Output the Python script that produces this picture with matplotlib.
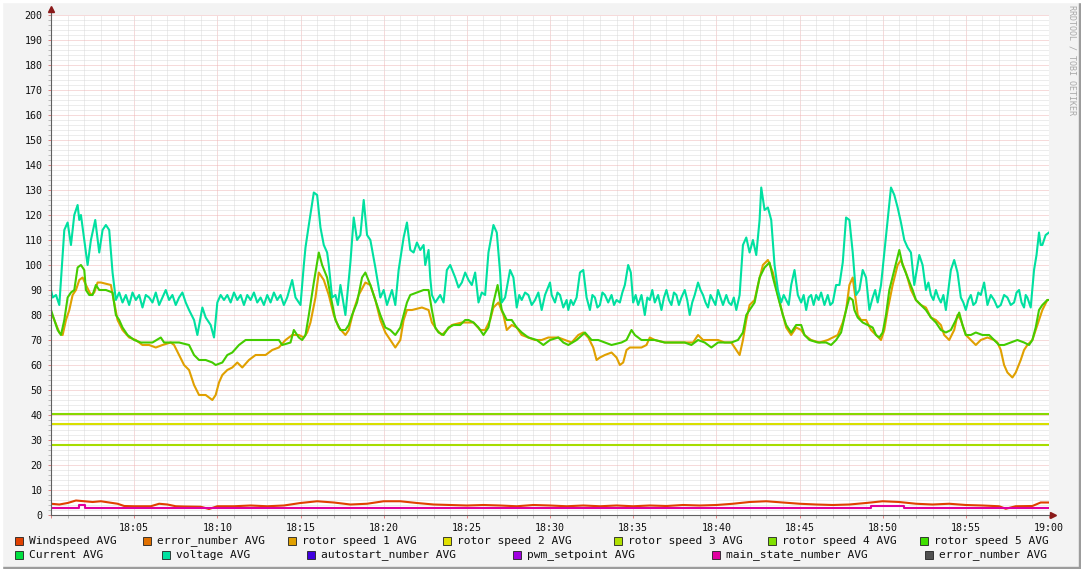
import matplotlib
matplotlib.use("Agg")
import matplotlib.pyplot as plt
from matplotlib.patches import Rectangle

W, H = 1081, 569

# minutes after 18:00
volt_t = [0, 0.1, 0.3, 0.5, 0.6, 0.8, 1.0, 1.2, 1.4, 1.6, 1.7, 1.8, 2.0, 2.2, 2.4, 2.66, 2.9, 3.1, 3.3, 3.5, 3.7, 3.9,
          4.1, 4.3, 4.5, 4.7, 4.9, 5.1, 5.3, 5.5, 5.7, 5.9, 6.1, 6.3, 6.5, 6.7, 6.9, 7.1, 7.3, 7.5, 7.7, 7.9, 8.1,
          8.3, 8.6, 8.8, 9.1, 9.3, 9.6, 9.8, 10.0,
          10.2, 10.4, 10.6, 10.8, 11.0, 11.2, 11.4, 11.6, 11.8, 12.0, 12.2, 12.4, 12.6, 12.8, 13.0, 13.2, 13.4, 13.6,
          13.8, 14.0, 14.2, 14.5, 14.7, 15.0, 15.2, 15.3, 15.5, 15.8, 16.0, 16.2, 16.4, 16.6, 16.7, 16.9, 17.1,
          17.25, 17.4, 17.55, 17.7, 18.0, 18.2, 18.4, 18.6, 18.8, 19.0, 19.2, 19.5, 19.8, 20.0, 20.2, 20.5, 20.7,
          20.9, 21.2, 21.4, 21.6, 21.8, 22.0, 22.2, 22.4, 22.5, 22.7, 22.8, 22.9, 23.1, 23.4, 23.6, 23.8, 24.0,
          24.3, 24.5, 24.7, 24.9, 25.1, 25.3, 25.5, 25.7, 25.9, 26.1, 26.3, 26.6, 26.8, 27.0, 27.1, 27.3, 27.6,
          27.8, 28.0, 28.15, 28.3, 28.5, 28.7, 28.9, 29.1, 29.3, 29.5, 29.7, 30.0, 30.1, 30.3, 30.45, 30.6, 30.8,
          31.0, 31.1, 31.25, 31.4, 31.6, 31.8, 32.0, 32.2, 32.4, 32.55, 32.7, 32.85, 33.0, 33.15, 33.3, 33.5,
          33.7, 33.85, 34.0, 34.2, 34.35, 34.5, 34.7, 34.86, 35.0, 35.15, 35.3, 35.5, 35.7, 35.85, 36.0, 36.15,
          36.3, 36.5, 36.7, 36.85, 37.0, 37.15, 37.3, 37.45, 37.6, 37.75, 37.9, 38.1, 38.25, 38.4, 38.55, 38.7,
          38.9, 39.05, 39.2, 39.35, 39.5, 39.65, 39.8, 39.95, 40.1, 40.25, 40.4, 40.6, 40.75, 40.9, 41.05, 41.2,
          41.4, 41.6, 41.8, 42.0, 42.2, 42.4, 42.6, 42.7, 42.9, 43.1, 43.3, 43.5, 43.7, 43.9, 44.05, 44.2, 44.35,
          44.5, 44.7, 44.9, 45.1, 45.25, 45.4, 45.55, 45.7, 45.85, 46.0, 46.15, 46.3, 46.5, 46.7, 46.85, 47.0,
          47.2, 47.4, 47.6, 47.8, 48.0, 48.2, 48.4, 48.6, 48.8, 49.0, 49.2, 49.4, 49.55, 49.7, 49.9, 50.1, 50.3,
          50.5, 50.7, 50.9, 51.1, 51.3, 51.5, 51.7, 51.9, 52.2, 52.4, 52.6, 52.75, 52.9, 53.05, 53.2, 53.35, 53.5,
          53.65, 53.8, 54.1, 54.3, 54.5, 54.7, 54.85, 55.0, 55.15, 55.3, 55.45, 55.6, 55.75, 55.9, 56.1, 56.3,
          56.5, 56.7, 56.9, 57.1, 57.3, 57.5, 57.7, 57.9, 58.05, 58.2, 58.35, 58.5, 58.6, 58.7, 58.9, 59.1,
          59.25, 59.4, 59.5, 59.6, 59.8, 60.0]
volt_v = [90, 87, 88, 84, 94, 114, 117, 108, 120, 124, 118, 120, 110, 100, 110, 118, 105, 114, 116, 114, 97, 86,
          89, 85, 88, 84, 89, 86, 88, 83, 88, 87, 85, 89, 84, 87, 90, 86, 88, 84, 87, 89, 85,
          82, 78, 72, 83, 79, 76, 71, 85,
          88, 86, 88, 85, 89, 86, 88, 84, 88, 86, 89, 85, 87, 84, 88, 85, 89, 86,
          88, 84, 87, 94, 87, 84, 100, 107, 116, 129, 128, 115, 108, 105, 100, 87, 88,
          84, 92, 86, 80, 101, 119, 110, 112, 126, 112, 110, 99, 87, 90, 84, 90, 84,
          98, 111, 117, 106, 105, 109, 106, 108, 100, 106, 95, 88, 85, 88, 85, 98, 100,
          95, 91, 93, 97, 94, 92, 97, 85, 89, 88, 105, 116, 113, 97, 85, 87, 98,
          95, 83, 88, 86, 89, 88, 84, 86, 89, 82, 88, 93, 88, 85, 89, 88, 83,
          86, 82, 86, 84, 87, 97, 98, 87, 82, 88, 87, 83, 84, 89, 88, 85,
          88, 84, 86, 85, 89, 92, 100, 97, 85, 88, 84, 88, 80, 87, 86, 90,
          85, 88, 82, 87, 90, 86, 84, 89, 88, 84, 87, 90, 86, 80, 85, 88,
          93, 90, 88, 85, 83, 88, 86, 84, 90, 87, 84, 88, 85, 84, 87, 82,
          88, 108, 111, 105, 110, 104, 118, 131, 122, 123, 118, 100, 90, 85, 88, 86, 84,
          92, 98, 88, 85, 88, 82, 87, 88, 84, 88, 86, 89, 84, 88, 84, 85,
          92, 92, 101, 119, 118, 105, 88, 90, 98, 95, 82, 87, 90, 85, 92, 105, 118,
          131, 128, 123, 117, 110, 107, 105, 92, 104, 100, 90, 93, 88, 86, 90, 87, 85,
          88, 82, 98, 102, 97, 87, 85, 82, 86, 88, 84, 85, 89, 88, 93, 84,
          88, 86, 83, 84, 88, 87, 84, 85, 89, 90, 85, 83, 88, 87, 83, 98,
          104, 113, 108, 108, 112, 113]

rs5_t = [0, 0.2, 0.4, 0.6, 0.8, 1.0, 1.2, 1.4, 1.6, 1.8, 2.0, 2.1, 2.3, 2.5, 2.7, 2.9, 3.3, 3.7, 3.9, 4.1, 4.3,
         4.6, 5.0, 5.4, 6.1, 6.6, 6.8, 7.7, 8.3, 8.6, 8.9, 9.3, 9.7, 9.9, 10.3, 10.6, 10.9, 11.3, 11.7, 12.7,
         13.7, 13.9, 14.4, 14.6, 14.9, 15.1, 15.3, 15.5, 15.8, 16.1, 16.3, 16.6, 16.8, 17.1, 17.4, 17.7, 17.9,
         18.1, 18.4, 18.7, 18.9, 19.2, 19.5, 19.8, 20.1, 20.4, 20.7, 21.0, 21.2, 21.4, 21.6, 22.0, 22.4, 22.7,
         22.9, 23.1, 23.3, 23.6, 23.9, 24.2, 24.6, 24.9, 25.1, 25.4, 25.7, 26.0, 26.3, 26.6, 26.85, 27.1, 27.4,
         27.7, 28.0, 28.3, 28.7, 29.2, 29.6, 30.0, 30.5, 30.8, 31.1, 31.6, 32.1, 32.5, 32.9, 33.3, 33.7, 34.3,
         34.6, 34.9, 35.1, 35.5, 35.9, 36.3, 36.9, 37.5, 38.1, 38.5, 38.9, 39.3, 39.7, 40.1, 40.5, 40.9, 41.3,
         41.6, 41.8, 42.0, 42.3, 42.6, 42.9, 43.2, 43.4, 43.6, 43.8, 44.0, 44.2, 44.5, 44.8, 45.1, 45.3, 45.6,
         46.1, 46.6, 46.9, 47.2, 47.5, 47.8, 48.0, 48.2, 48.3, 48.5, 48.8, 49.1, 49.4, 49.6, 49.8, 50.0, 50.2,
         50.4, 50.7, 51.0, 51.2, 51.5, 51.8, 52.0, 52.3, 52.6, 52.9, 53.2, 53.5, 53.8, 54.1, 54.4, 54.6, 54.8,
         55.0, 55.3, 55.6, 56.0, 56.4, 56.7, 57.0, 57.3, 57.7, 58.1, 58.5, 58.8, 59.0, 59.2, 59.4, 59.6, 59.9,
         60.0]
rs5_v = [82, 78, 74, 72, 78, 87, 89, 90, 99, 100, 98, 90, 88, 88, 92, 90, 90, 89, 80, 78, 75,
         72, 70, 69, 69, 71, 69, 69, 68, 64, 62, 62, 61, 60, 61, 64, 65, 68, 70, 70,
         70, 68, 69, 74, 71, 70, 72, 80, 93, 105, 100, 95, 88, 78, 74, 74, 76,
         80, 85, 95, 97, 92, 86, 80, 75, 74, 72, 75, 80, 85, 88, 89, 90, 90,
         82, 75, 73, 72, 75, 76, 76, 78, 78, 77, 75, 72, 75, 85, 92, 82, 78,
         78, 75, 73, 71, 70, 68, 70, 71, 69, 68, 70, 73, 70, 70, 69, 68, 69,
         70, 74, 72, 70, 70, 70, 69, 69, 69, 68, 70, 69, 67, 69, 69, 69, 70,
         73, 80, 82, 85, 95, 99, 101, 95, 90, 85, 80, 76, 73, 76, 76, 72, 70,
         69, 69, 68, 70, 73, 82, 87, 86, 82, 79, 77, 76, 75, 72, 71, 73, 80,
         90, 98, 106, 100, 95, 90, 86, 84, 82, 79, 77, 74, 73, 74, 78, 81, 76,
         72, 72, 73, 72, 72, 70, 68, 68, 69, 70, 69, 68, 70, 75, 82, 84, 86,
         86]

rs1_t = [0, 0.2, 0.5, 0.7, 0.9, 1.1, 1.3, 1.5, 1.7, 1.9, 2.1, 2.4, 2.6, 2.8, 3.0, 3.6, 3.8, 4.0, 4.3, 4.7, 5.1,
         5.5, 5.9, 6.3, 6.7, 7.2, 7.4, 7.7, 8.0, 8.3, 8.6, 8.9, 9.3, 9.7, 9.9, 10.1, 10.3, 10.6, 10.9, 11.2,
         11.5, 11.9, 12.3, 12.9, 13.3, 13.7, 14.1, 14.5, 14.9, 15.2, 15.4, 15.6, 15.9, 16.1, 16.4, 16.7, 17.0,
         17.3, 17.7, 17.9, 18.2, 18.5, 18.9, 19.2, 19.5, 19.8, 20.1, 20.4, 20.7, 21.0, 21.2, 21.4, 21.7, 22.3,
         22.7, 22.9, 23.2, 23.5, 23.8, 24.1, 24.7, 25.1, 25.4, 25.8, 26.1, 26.4, 26.6, 26.9, 27.2, 27.4, 27.7,
         28.0, 28.3, 28.7, 29.1, 29.5, 29.9, 30.5, 30.9, 31.3, 31.7, 32.0, 32.3, 32.6, 32.8, 33.0, 33.3, 33.7,
         34.0, 34.2, 34.4, 34.6, 34.8, 35.5, 35.8, 36.0, 36.3, 36.9, 37.5, 38.1, 38.6, 38.9, 39.2, 39.7, 40.1,
         40.5, 40.9, 41.2, 41.4, 41.6, 41.8, 42.0, 42.3, 42.5, 42.8, 43.1, 43.4, 43.7, 44.0, 44.2, 44.5, 44.8,
         45.1, 45.3, 45.7, 46.2, 46.7, 47.0, 47.3, 47.6, 47.8, 48.0, 48.2, 48.3, 48.5, 48.7, 49.0, 49.3, 49.6,
         49.9, 50.1, 50.3, 50.6, 50.9, 51.1, 51.4, 51.7, 52.0, 52.3, 52.6, 52.9, 53.2, 53.5, 53.7, 54.0, 54.3,
         54.5, 54.7, 55.0, 55.3, 55.6, 55.9, 56.3, 56.7, 56.9, 57.1, 57.3, 57.5, 57.8, 58.0, 58.3, 58.5, 58.7,
         59.0, 59.3, 59.6, 59.9, 60.0]
rs1_v = [81, 78, 73, 72, 78, 82, 88, 90, 94, 95, 92, 88, 89, 93, 93, 92, 85, 78, 74, 71, 70,
         68, 68, 67, 68, 69, 68, 64, 60, 58, 52, 48, 48, 46, 48, 53, 56, 58, 59, 61,
         59, 62, 64, 64, 66, 67, 70, 72, 72, 71, 73, 77, 87, 97, 94, 88, 80,
         75, 72, 74, 82, 88, 93, 92, 86, 78, 73, 70, 67, 70, 78, 82, 82, 83,
         82, 77, 74, 72, 74, 76, 77, 77, 77, 74, 74, 78, 83, 85, 80, 74, 76,
         75, 72, 71, 70, 70, 71, 71, 70, 69, 72, 73, 71, 67, 62, 63, 64, 65,
         63, 60, 61, 66, 67, 67, 68, 71, 70, 69, 69, 69, 69, 72, 70, 70, 70,
         69, 69, 66, 64, 70, 78, 84, 86, 92, 100, 102, 97, 88, 80, 75, 72, 75,
         74, 72, 70, 69, 70, 71, 72, 77, 82, 92, 95, 90, 80, 78, 78, 74, 72,
         70, 74, 82, 92, 100, 102, 97, 90, 86, 84, 83, 79, 78, 76, 72, 70, 74,
         80, 78, 72, 70, 68, 70, 71, 70, 69, 66, 60, 57, 55, 57, 62, 66, 68,
         70, 76, 82, 86, 86]

wind_t = [0, 0.5, 1, 1.5, 2, 2.5, 3, 3.5, 4, 4.4, 5, 6, 6.5, 7, 7.5, 8, 9, 9.5, 10, 11, 12, 13, 14, 15, 16,
          17, 18, 19, 20, 21, 22, 23, 24, 25, 26, 27, 28, 29, 30, 31, 32, 33, 34, 35, 36, 37, 38, 39, 40,
          41, 42, 43, 44, 45, 46, 47, 48, 49, 50, 51, 52, 53, 54, 55, 56, 57, 57.4, 58, 59, 59.5, 60]
wind_v = [4.5, 4.2, 4.8, 5.8, 5.5, 5.2, 5.5, 5.0, 4.5, 3.6, 3.5, 3.5, 4.5, 4.2, 3.5, 3.4, 3.3, 2.4, 3.5, 3.5,
          3.8, 3.5, 3.8, 4.8, 5.5, 5.0, 4.2, 4.5, 5.5, 5.5, 4.8, 4.2, 4.0, 3.8, 4.0, 3.8, 3.5, 4.0, 3.8,
          3.5, 3.8, 3.5, 3.8, 3.5, 3.8, 3.6, 4.0, 3.8, 4.0, 4.5, 5.2, 5.5, 5.0, 4.5, 4.2, 4.0, 4.2, 4.8,
          5.5, 5.2, 4.5, 4.2, 4.5, 4.0, 3.8, 3.5, 2.5, 3.5, 3.6, 5.0, 5.0]

state_t = [0, 1.7, 2.05, 49.3, 51.3, 60]
state_v = [3, 4, 3, 3.7, 3, 3]

rs2_level = 36.5
rs3_level = 28.0
rs4_level = 40.5

legend_names = ["Windspeed AVG", "error_number AVG", "rotor speed 1 AVG", "rotor speed 2 AVG",
                "rotor speed 3 AVG", "rotor speed 4 AVG", "rotor speed 5 AVG",
                "Current AVG", "voltage AVG", "autostart_number AVG", "pwm_setpoint AVG",
                "main_state_number AVG", "error_number AVG"]
legend_colors = ["#E04000", "#E07000", "#E0A000", "#E0E000", "#B0E000", "#80E000", "#40E000",
                 "#00E040", "#00E0A0", "#4000E0", "#A000E0", "#E000A0", "#505050"]
legend_x = [15, 143, 288, 443, 614, 768, 920, 15, 162, 307, 513, 712, 925]
legend_row = [0, 0, 0, 0, 0, 0, 0, 1, 1, 1, 1, 1, 1]

x_labels = ["", "18:05", "18:10", "18:15", "18:20", "18:25", "18:30", "18:35", "18:40",
            "18:45", "18:50", "18:55", "19:00"]

mono = "DejaVu Sans Mono"

fig = plt.figure(figsize=(W / 100, H / 100), dpi=100, facecolor="#F3F3F3")
ax = fig.add_axes([51 / W, 1 - 515 / H, 998 / W, 500 / H])
ax.set_facecolor("white")

lw = 1.5
ax.plot(wind_t, wind_v, color=legend_colors[0], lw=lw, zorder=3)
ax.plot(rs1_t, rs1_v, color=legend_colors[2], lw=lw, zorder=3)
ax.axhline(rs2_level, color="#D8E000", lw=lw, zorder=3)
ax.axhline(rs3_level, color="#A8DC00", lw=lw, zorder=3)
ax.axhline(rs4_level, color="#88D800", lw=lw, zorder=3)
ax.plot(rs5_t, rs5_v, color="#44CC00", lw=lw, zorder=3)
ax.plot(volt_t, volt_v, color="#00E0A0", lw=lw, zorder=3)
ax.plot(state_t, state_v, color=legend_colors[11], lw=lw, drawstyle="steps-post", zorder=3)

ax.set_xlim(0, 60)
ax.set_ylim(0, 200)
ax.set_xticks(range(0, 61, 5))
ax.set_xticks(range(0, 61, 1), minor=True)
ax.set_xticklabels(x_labels)
ax.set_yticks(range(0, 201, 10))
ax.set_yticks(range(0, 201, 2), minor=True)
ax.set_yticklabels([str(v) for v in range(0, 201, 10)])

ax.grid(which="minor", color="#DADADA", linestyle=(0, (1, 1)), lw=0.72, zorder=1)
ax.grid(which="major", color="#EEB6B6", linestyle=(0, (1, 1)), lw=0.72, zorder=1)
ax.set_axisbelow(True)

ax.tick_params(which="both", length=2, width=0.7, color="#E08080", pad=4)
ax.tick_params(which="minor", color="#BBBBBB")
for lab in ax.get_xticklabels() + ax.get_yticklabels():
    lab.set_fontfamily(mono)
    lab.set_fontsize(7.2)
    lab.set_color("#101010")

for side in ("top", "right"):
    ax.spines[side].set_visible(False)
for side in ("left", "bottom"):
    ax.spines[side].set_color("#606060")
    ax.spines[side].set_linewidth(0.8)
    ax.spines[side].set_zorder(4)

# axis arrows
ax.plot([0, 0], [1, 1.012], transform=ax.transAxes, color="#606060", lw=0.8, clip_on=False)
ax.plot([1, 1.004], [0, 0], transform=ax.transAxes, color="#606060", lw=0.8, clip_on=False)
ax.plot([0], [1.012], transform=ax.transAxes, marker="^", ms=4, color="#8B1A1A", clip_on=False)
ax.plot([1.004], [0], transform=ax.transAxes, marker=">", ms=4, color="#8B1A1A", clip_on=False)

# legend
row_y = [541, 555]
for name, col, lx, row in zip(legend_names, legend_colors, legend_x, legend_row):
    cy = row_y[row]
    fig.patches.append(Rectangle((lx / W, 1 - (cy + 4) / H), 8 / W, 8 / H,
                                 transform=fig.transFigure, facecolor=col,
                                 edgecolor="#202020", lw=0.6))
    fig.text((lx + 14) / W, 1 - cy / H, name, family=mono, fontsize=8.1,
             va="center", ha="left", color="#101010")

fig.text(1072 / W, 1 - 60 / H, "RRDTOOL / TOBI OETIKER", family=mono, fontsize=6,
         rotation=270, va="center", ha="center", color="#A8A8A8")

# frame
fig.patches.append(Rectangle((0, 0), 1, 2 / H, transform=fig.transFigure, color="#9C9C9C"))
fig.patches.append(Rectangle((1 - 2 / W, 0), 2 / W, 1, transform=fig.transFigure, color="#9C9C9C"))
fig.patches.append(Rectangle((0, 1 - 2 / H), 1, 2 / H, transform=fig.transFigure, color="#FFFFFF"))
fig.patches.append(Rectangle((0, 0), 2 / W, 1, transform=fig.transFigure, color="#FFFFFF"))

fig.savefig("out.png", dpi=100, facecolor=fig.get_facecolor())
